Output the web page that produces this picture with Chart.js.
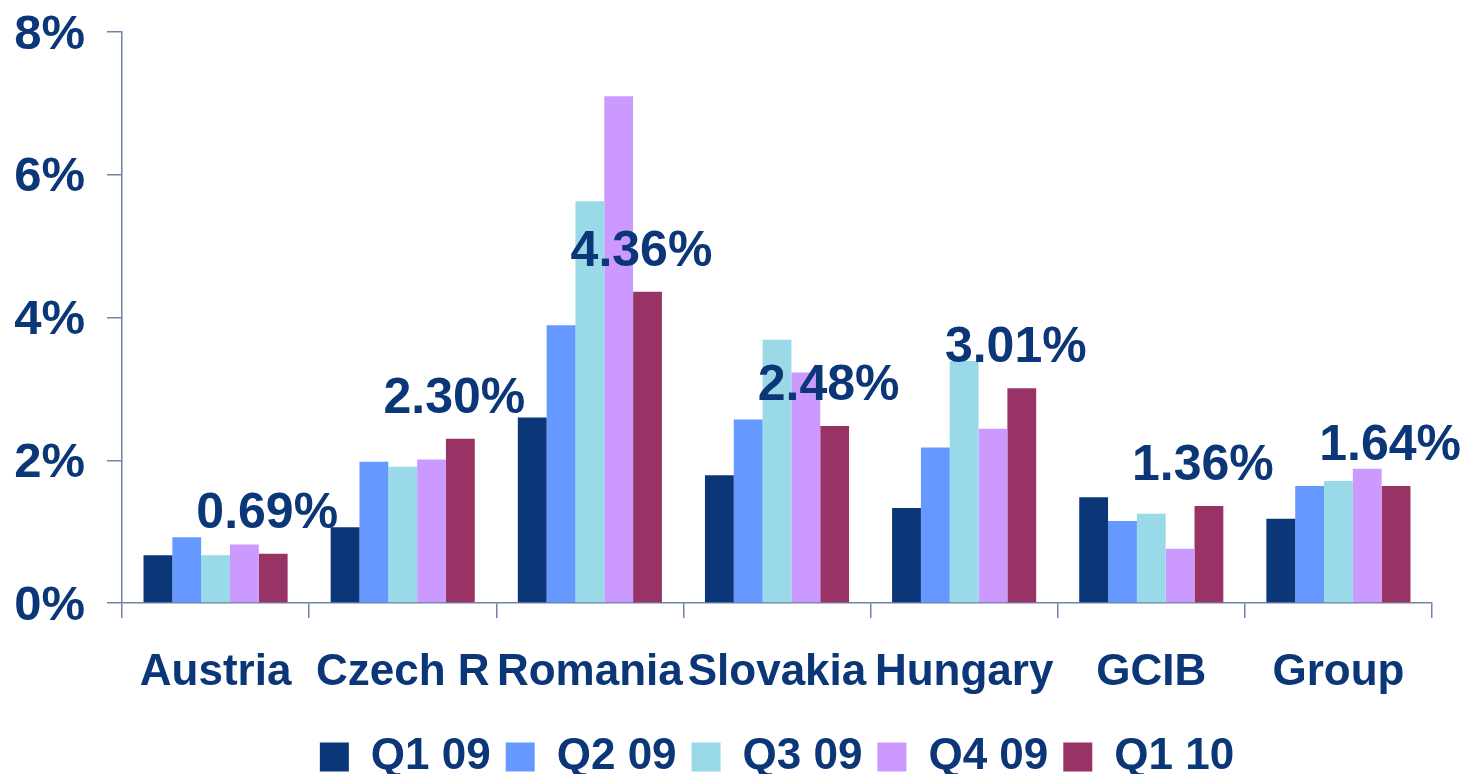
<!DOCTYPE html>
<html>
<head>
<meta charset="utf-8">
<script src="https://cdn.jsdelivr.net/npm/chart.js@4/dist/chart.umd.min.js"></script>
<style>
  html, body { margin: 0; padding: 0; background: #fff; overflow: hidden; }
  #wrap { width: 1463px; height: 789px; }
</style>
</head>
<body>
<div id="wrap"><canvas id="nplChart"></canvas></div>
<script>
// categories and quarterly series (% of loans)
const categories = ["Austria", "Czech R", "Romania", "Slovakia", "Hungary", "GCIB", "Group"];
const seriesNames = ["Q1 09", "Q2 09", "Q3 09", "Q4 09", "Q1 10"];
const q109 = [0.67, 1.06, 2.60, 1.79, 1.33, 1.48, 1.18];
const q209 = [0.92, 1.98, 3.89, 2.57, 2.18, 1.15, 1.64];
const q309 = [0.67, 1.91, 5.63, 3.69, 3.39, 1.25, 1.71];
const q409 = [0.82, 2.01, 7.10, 3.23, 2.44, 0.76, 1.88];
const q110 = [0.69, 2.30, 4.36, 2.48, 3.01, 1.36, 1.64];
const yTicks = [0, 2, 4, 6, 8];

const colors = ["#0B3677", "#6699FF", "#99D9E8", "#CC99FF", "#993366"];
const navy = "#0B3677";
const axisColor = "#6F82A8";
const fontFamily = "'Liberation Sans', Arial, sans-serif";

// value labels above the latest quarter
const lastLabels = {
  id: "lastLabels",
  afterDatasetsDraw(chart) {
    const c = chart.ctx;
    const meta = chart.getDatasetMeta(4);
    c.save();
    c.font = "bold 50px " + fontFamily;
    c.fillStyle = navy;
    c.textAlign = "center";
    c.textBaseline = "alphabetic";
    meta.data.forEach((bar, i) => {
      c.fillText(q110[i].toFixed(2) + "%", bar.x - 6, bar.y - 26);
    });
    c.restore();
  }
};

const series = [q109, q209, q309, q409, q110];

new Chart(document.getElementById("nplChart"), {
  type: "bar",
  data: {
    labels: categories,
    datasets: series.map((d, i) => ({
      label: seriesNames[i],
      data: d,
      backgroundColor: colors[i],
      borderWidth: 0,
      categoryPercentage: 0.77,
      barPercentage: 1.0
    }))
  },
  options: {
    responsive: true,
    maintainAspectRatio: false,
    animation: false,
    layout: { padding: { left: 13, right: 31, top: 2, bottom: 0 } },
    scales: {
      x: {
        afterFit(axis) { axis.height = 117; axis.paddingLeft = 0; axis.paddingRight = 0; },
        grid: { display: true, drawOnChartArea: false, drawTicks: true, tickLength: 15, color: axisColor, lineWidth: 1.5 },
        border: { display: true, color: axisColor, width: 1.5 },
        ticks: {
          autoSkip: false, maxRotation: 0, minRotation: 0, padding: 28,
          color: navy, font: { family: fontFamily, size: 44, weight: "bold" }
        }
      },
      y: {
        min: 0,
        max: 8,
        afterBuildTicks(axis) { axis.ticks = yTicks.map(v => ({ value: v })); },
        afterFit(axis) { axis.width = 109; axis.paddingTop = 32; axis.paddingBottom = 0; },
        grid: { display: true, drawOnChartArea: false, drawTicks: true, tickLength: 15, color: axisColor, lineWidth: 1.5 },
        border: { display: true, color: axisColor, width: 1.5 },
        ticks: {
          padding: 22,
          labelOffset: 3,
          color: navy,
          font: { family: fontFamily, size: 49, weight: "bold" },
          callback: v => v + "%"
        }
      }
    },
    plugins: {
      legend: {
        position: "bottom",
        fullSize: false,
        labels: {
          color: navy,
          boxWidth: 29,
          boxHeight: 29,
          padding: 15,
          font: { family: fontFamily, size: 44, weight: "bold", lineHeight: 1 }
        }
      },
      tooltip: { enabled: false }
    }
  },
  plugins: [lastLabels]
});
</script>
</body>
</html>
